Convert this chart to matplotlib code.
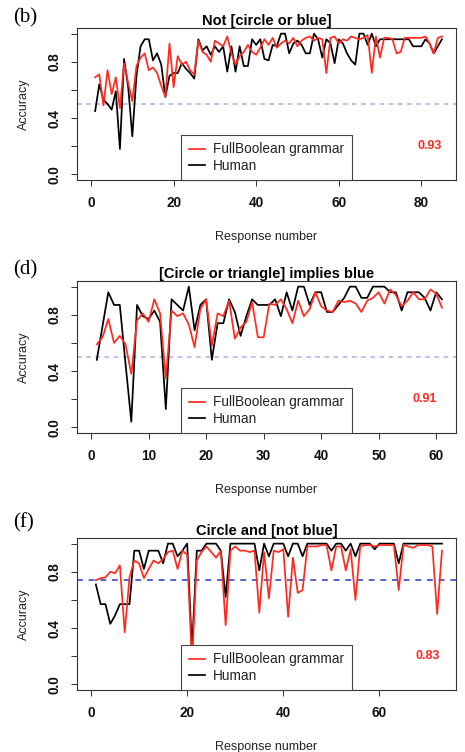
import matplotlib
matplotlib.use('Agg')
import matplotlib.pyplot as plt
import numpy as np

plt.rcParams['font.family'] = ['Liberation Sans', 'DejaVu Sans']

titles = ['Not [circle or blue]', '[Circle or triangle] implies blue', 'Circle and [not blue]']
panel_tags = ['(b)', '(d)', '(f)']
corr_labels = ['0.93', '0.91', '0.83']
chance_levels = [0.5, 0.5, 0.745]
xticks = [[0, 20, 40, 60, 80], [0, 10, 20, 30, 40, 50, 60], [0, 20, 40, 60]]

# panel (b): 85 responses
p1_human = [0.45, 0.64, 0.53, 0.50, 0.46, 0.59, 0.18, 0.82, 0.62, 0.27,
            0.70, 0.91, 0.96, 0.96, 0.81, 0.86, 0.78, 0.55, 0.70, 0.72,
            0.72, 0.79, 0.75, 0.72, 0.68, 0.96, 0.88, 0.91, 0.85, 0.91,
            0.87, 0.91, 0.73, 0.91, 0.73, 0.91, 0.77, 0.77, 0.96, 0.92,
            0.96, 0.82, 0.81, 0.92, 0.91, 1.00, 1.00, 0.86, 0.93, 0.95,
            0.92, 0.86, 0.86, 1.00, 0.96, 0.83, 0.96, 0.93, 0.79, 0.96,
            0.93, 0.86, 0.81, 0.78, 1.00, 1.00, 0.92, 1.00, 0.91, 0.96,
            0.96, 0.96, 0.96, 0.96, 0.96, 0.96, 0.96, 0.91, 0.91, 0.91,
            0.96, 0.93, 0.86, 0.91, 0.96]
p1_model = [0.69, 0.71, 0.49, 0.74, 0.57, 0.69, 0.47, 0.79, 0.65, 0.52,
            0.77, 0.83, 0.86, 0.74, 0.76, 0.72, 0.63, 0.55, 0.93, 0.62,
            0.84, 0.78, 0.80, 0.74, 0.71, 0.95, 0.87, 0.85, 0.80, 0.95,
            0.93, 0.91, 0.98, 0.86, 0.78, 0.84, 0.87, 0.92, 0.87, 0.85,
            0.90, 0.96, 0.92, 0.97, 0.90, 0.93, 0.95, 0.93, 0.97, 0.91,
            0.95, 0.97, 0.98, 0.95, 0.97, 0.96, 0.72, 0.97, 0.98, 0.93,
            0.96, 0.95, 0.98, 0.97, 0.96, 0.97, 0.99, 0.72, 0.98, 0.83,
            0.97, 0.97, 0.96, 0.86, 0.87, 0.97, 0.97, 0.97, 0.97, 0.97,
            0.98, 0.93, 0.86, 0.97, 0.98]

# panel (d): 61 responses
p2_human = [0.48, 0.72, 0.96, 0.87, 0.87, 0.45, 0.04, 0.87, 0.79, 0.77,
            0.83, 0.75, 0.13, 0.91, 0.87, 0.83, 1.00, 0.69, 0.87, 0.91,
            0.48, 0.74, 0.74, 0.91, 0.82, 0.65, 0.79, 0.91, 0.87, 0.87,
            0.87, 0.91, 0.79, 0.96, 0.83, 1.00, 1.00, 0.87, 0.96, 0.96,
            0.82, 0.82, 0.87, 0.92, 1.00, 1.00, 0.92, 0.92, 1.00, 1.00,
            1.00, 0.96, 0.96, 0.83, 0.96, 0.96, 0.96, 0.92, 0.83, 0.96,
            0.91]
p2_model = [0.59, 0.64, 0.77, 0.60, 0.65, 0.59, 0.38, 0.76, 0.81, 0.75,
            0.91, 0.81, 0.35, 0.83, 0.79, 0.81, 0.73, 0.57, 0.84, 0.91,
            0.58, 0.81, 0.79, 0.90, 0.63, 0.71, 0.75, 0.89, 0.64, 0.64,
            0.88, 0.87, 0.91, 0.84, 0.74, 0.90, 0.79, 0.84, 0.96, 0.86,
            0.83, 0.82, 0.90, 0.89, 0.90, 0.88, 0.82, 0.90, 0.92, 0.96,
            0.88, 0.98, 0.94, 0.86, 0.90, 0.96, 0.91, 0.91, 0.98, 0.95,
            0.85]

# panel (f): 73 responses
p3_human = [0.71, 0.57, 0.57, 0.43, 0.49, 0.57, 0.57, 0.57, 0.95, 0.95,
            0.82, 0.95, 0.95, 0.95, 0.86, 1.00, 1.00, 0.91, 0.95, 1.00,
            0.25, 0.95, 0.95, 1.00, 1.00, 1.00, 0.95, 0.62, 1.00, 1.00,
            1.00, 1.00, 1.00, 1.00, 0.81, 1.00, 0.91, 1.00, 1.00, 1.00,
            0.91, 1.00, 1.00, 0.91, 1.00, 1.00, 1.00, 1.00, 1.00, 0.95,
            1.00, 1.00, 0.95, 1.00, 0.91, 1.00, 1.00, 1.00, 0.96, 1.00,
            1.00, 1.00, 1.00, 0.86, 1.00, 1.00, 1.00, 1.00, 1.00, 1.00,
            1.00, 1.00, 1.00]
p3_model = [0.74, 0.755, 0.76, 0.80, 0.79, 0.845, 0.37, 0.76, 0.88, 0.86,
            0.755, 0.82, 0.88, 0.86, 0.89, 0.94, 0.95, 0.82, 0.95, 0.92,
            0.15, 0.88, 0.94, 0.98, 0.94, 0.90, 0.95, 0.42, 0.95, 0.98,
            0.95, 0.95, 0.94, 0.95, 0.51, 0.94, 0.61, 0.95, 0.94, 0.96,
            0.48, 0.90, 0.65, 0.67, 0.98, 0.98, 0.98, 0.99, 0.99, 0.81,
            0.98, 0.98, 0.81, 0.96, 0.60, 0.98, 0.99, 0.99, 0.98, 0.99,
            0.99, 0.99, 0.99, 0.67, 0.99, 0.98, 0.97, 0.99, 0.99, 0.99,
            0.98, 0.50, 0.95]

humans = [p1_human, p2_human, p3_human]
models = [p1_model, p2_model, p3_model]

red = '#ff2a1f'
chance_colors = ['#a9aeec', '#a9aeec', '#5461d2']
chance_widths = [1.1, 1.1, 1.4]

W, H = 465, 752
fig = plt.figure(figsize=(W / 100, H / 100), dpi=100)

tops = [28, 281, 538]
tag_y = [18, 270, 523]

for k in range(3):
    top = tops[k]
    ax = fig.add_axes([77 / W, (H - top - 152) / H, 379 / W, 152 / H])
    hum = np.array(humans[k])
    mod = np.array(models[k])
    n = len(hum)
    x = np.arange(1, n + 1)

    ax.axhline(chance_levels[k], color=chance_colors[k], lw=chance_widths[k],
               ls=(0, (3, 3)), zorder=1)
    ax.plot(x, mod, color=red, lw=1.25, label='FullBoolean grammar', zorder=3)
    ax.plot(x, hum, color='black', lw=1.25, label='Human', zorder=2)

    ax.set_xlim(-0.04 * n, 1.04 * n)
    ax.set_ylim(-0.04, 1.04)
    ax.set_xticks(xticks[k])
    ax.set_yticks([0, 0.2, 0.4, 0.6, 0.8, 1.0])
    ax.set_yticklabels(['0.0', '', '0.4', '', '0.8', ''], rotation=90, va='center')
    ax.tick_params(axis='both', length=4.5, width=0.7, color='#333333',
                   labelsize=9.8, labelcolor='#111111')
    ax.tick_params(axis='x', pad=7)
    ax.tick_params(axis='y', pad=7)
    for lab in ax.get_xticklabels() + ax.get_yticklabels():
        lab.set_fontweight('bold')
    for s in ax.spines.values():
        s.set_color('#333333')
        s.set_linewidth(0.8)

    ax.set_title(titles[k], fontsize=10.5, fontweight='bold', pad=2)
    ax.set_xlabel('Response number', fontsize=9, labelpad=15, color='#222222')
    ax.set_ylabel('Accuracy', fontsize=9, labelpad=12, color='#222222')

    ax.text(n - 3, 0.2, corr_labels[k], color=red, fontweight='bold',
            fontsize=9, ha='center', va='center')

    leg = ax.legend(loc='lower center', bbox_to_anchor=(0.5, 0), borderaxespad=0,
                    fancybox=False, framealpha=1, edgecolor='#444444',
                    fontsize=9.8, handlelength=1.2, handletextpad=0.6,
                    borderpad=0.55, labelspacing=0.15)
    leg.get_frame().set_linewidth(0.8)
    leg.set_zorder(5)
    for t in leg.get_texts():
        t.set_color('#222222')

    fig.text(13 / W, 1 - tag_y[k] / H, panel_tags[k], family='Liberation Serif',
             fontsize=15, ha='left', va='center')

fig.savefig('out.png', dpi=100)
